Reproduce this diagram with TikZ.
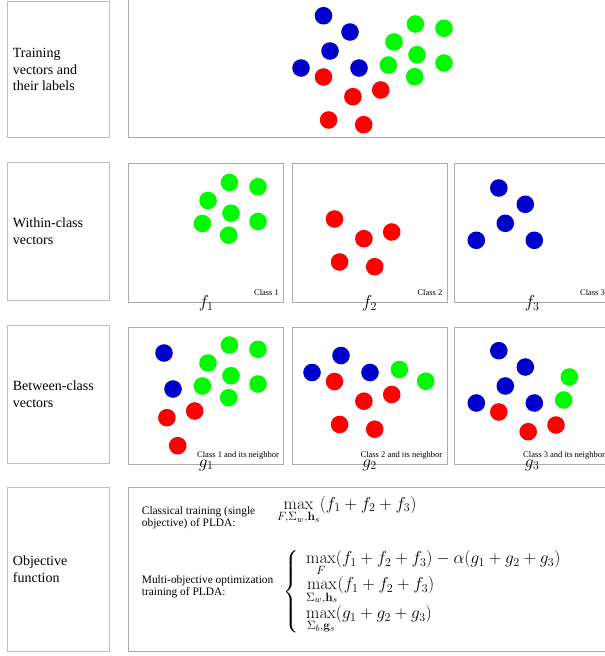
\documentclass[tikz,border=0pt]{standalone}
\usepackage{amsmath}
\usepackage[no-math]{fontspec}
\setmainfont{Liberation Serif}
\newfontfamily\labelfont{Liberation Serif}
\usetikzlibrary{positioning}
\definecolor{dotblue}{RGB}{0,0,204}
\definecolor{dotgreen}{RGB}{0,250,0}
\definecolor{dotred}{RGB}{255,0,0}
\definecolor{framegray}{RGB}{170,170,170}
\definecolor{labelgray}{RGB}{190,190,190}
\newcommand{\blueset}{(323.5,15.7),(350,32),(330,51),(301,68),(359,68)}
\newcommand{\greenset}{(415.4,24),(444,28.3),(394,42),(417,54.7),(444,63),(388.4,65),(414.7,76.7)}
\newcommand{\redset}{(323.5,77),(380.7,90),(352.9,96.7),(328.6,120),(363.7,124.7)}
\tikzset{
  panel/.style={draw=framegray, line width=0.8pt, inner sep=0pt, anchor=north west, minimum width=155pt},
  labelbox/.style={panel, draw=labelgray, minimum width=102pt},
  rowlabel/.style={font=\labelfont\fontsize{14}{16.7}\selectfont, align=left, inner sep=0pt, anchor=west},
  note/.style={font=\labelfont\fontsize{8.5}{10}\selectfont, inner sep=0pt, anchor=base east, xshift=-5pt, yshift=8pt},
  fname/.style={font=\fontsize{18}{20}\selectfont, inner sep=0pt},
  prose/.style={font=\labelfont\fontsize{11.4}{12.4}\selectfont, align=left, inner sep=0pt, anchor=west},
  formula/.style={font=\fontsize{17.5}{20}\selectfont, inner sep=0pt}
}

\begin{document}
\begin{tikzpicture}[x=1pt, y=-1pt]
  \useasboundingbox (0,0) rectangle (605,656);
  % frames
  \node[labelbox, minimum height=136.3pt] (lab1) at (6.7,1) {};
  \node[panel, minimum width=484pt, minimum height=139.3pt] (scatter) at (128.3,-2) {};
  \node[labelbox, minimum height=137.7pt] (lab2) at (6.7,162.3) {};
  \node[panel, minimum height=139.3pt] (w1) at (128.3,163) {};
  \node[panel, minimum height=139.3pt] (w2) at (291.7,163) {};
  \node[panel, minimum height=139.3pt] (w3) at (454.3,163) {};
  \node[labelbox, minimum height=138.3pt] (lab3) at (6.7,325) {};
  \node[panel, minimum height=137.6pt] (b1) at (128.3,326.7) {};
  \node[panel, minimum height=137.6pt] (b2) at (291.7,326.7) {};
  \node[panel, minimum height=137.6pt] (b3) at (454.3,326.7) {};
  \node[labelbox, minimum height=164pt] (lab4) at (6.7,487) {};
  \node[panel, minimum width=484pt, minimum height=163.7pt] (obj) at (128.3,487.3) {};

  % training vectors
  \foreach \p in \blueset \fill[dotblue] \p circle (8.8pt);
  \foreach \p in \greenset \fill[dotgreen] \p circle (8.8pt);
  \foreach \p in \redset \fill[dotred] \p circle (8.8pt);

  % within-class
  \begin{scope}[shift={(-186,158.5)}]
    \foreach \p in \greenset \fill[dotgreen] \p circle (8.8pt);
  \end{scope}
  \begin{scope}[shift={(11,142)}]
    \foreach \p in \redset \fill[dotred] \p circle (8.8pt);
  \end{scope}
  \begin{scope}[shift={(175.3,172.3)}]
    \foreach \p in \blueset \fill[dotblue] \p circle (8.8pt);
  \end{scope}

  % between-class
  \begin{scope}[shift={(-186,321)}]
    \foreach \p in \greenset \fill[dotgreen] \p circle (8.8pt);
    \foreach \p in {(350,32),(359,68)} \fill[dotblue] \p circle (8.8pt);
    \foreach \p in {(380.7,90),(352.9,96.7),(363.7,124.7)} \fill[dotred] \p circle (8.8pt);
  \end{scope}
  \begin{scope}[shift={(11,304.5)}]
    \foreach \p in \redset \fill[dotred] \p circle (8.8pt);
    \foreach \p in {(330,51),(301,68),(359,68)} \fill[dotblue] \p circle (8.8pt);
    \foreach \p in {(388.4,65),(414.7,76.7)} \fill[dotgreen] \p circle (8.8pt);
  \end{scope}
  \begin{scope}[shift={(175.3,335)}]
    \foreach \p in \blueset \fill[dotblue] \p circle (8.8pt);
    \foreach \p in {(394,42),(388.4,65)} \fill[dotgreen] \p circle (8.8pt);
    \foreach \p in {(323.5,77),(380.7,90),(352.9,96.7)} \fill[dotred] \p circle (8.8pt);
  \end{scope}

  % row labels
  \node[rowlabel, right=6pt of lab1.west] (txt1) {Training\\vectors and\\their labels};
  \node[rowlabel, right=6pt of lab2.west] (txt2) {Within-class\\vectors};
  \node[rowlabel, right=6pt of lab3.west] (txt3) {Between-class\\vectors};
  \node[rowlabel, right=6pt of lab4.west] (txt4) {Objective\\function};

  % panel notes and names
  \node[note] (n1) at (w1.south east) {Class 1};
  \node[note] (n2) at (w2.south east) {Class 2};
  \node[note] (n3) at (w3.south east) {Class 3};
  \node[note] (m1) at (b1.south east) {Class 1 and its neighbor};
  \node[note] (m2) at (b2.south east) {Class 2 and its neighbor};
  \node[note] (m3) at (b3.south east) {Class 3 and its neighbor};
  \node[fname] (f1) at (w1.south) {$f_1$};
  \node[fname] (f2) at (w2.south) {$f_2$};
  \node[fname] (f3) at (w3.south) {$f_3$};
  \node[fname] (g1) at (b1.south) {$g_1$};
  \node[fname] (g2) at (b2.south) {$g_2$};
  \node[fname] (g3) at (b3.south) {$g_3$};

  % objective
  \node[prose] (classic) at (141.7,518) {Classical training (single\\objective) of PLDA:};
  \node[formula, anchor=base west] (single) at (277,509.3)
    {$\max\limits_{F,\Sigma_w,\mathbf{h}_s}(f_1+f_2+f_3)$};
  \node[prose] (multiobj) at (141.7,587) {Multi-objective optimization\\training of PLDA:};
  \node[formula, anchor=west] (multi) at (283,592)
    {$\left\{\renewcommand{\arraystretch}{0.95}\begin{array}{@{\;\,}l@{}}
      \max\limits_{F}(f_1+f_2+f_3)-\alpha(g_1+g_2+g_3)\\
      \max\limits_{\Sigma_w,\mathbf{h}_s}(f_1+f_2+f_3)\\
      \max\limits_{\Sigma_b,\mathbf{g}_s}(g_1+g_2+g_3)
    \end{array}\right.$};
\end{tikzpicture}
\end{document}
